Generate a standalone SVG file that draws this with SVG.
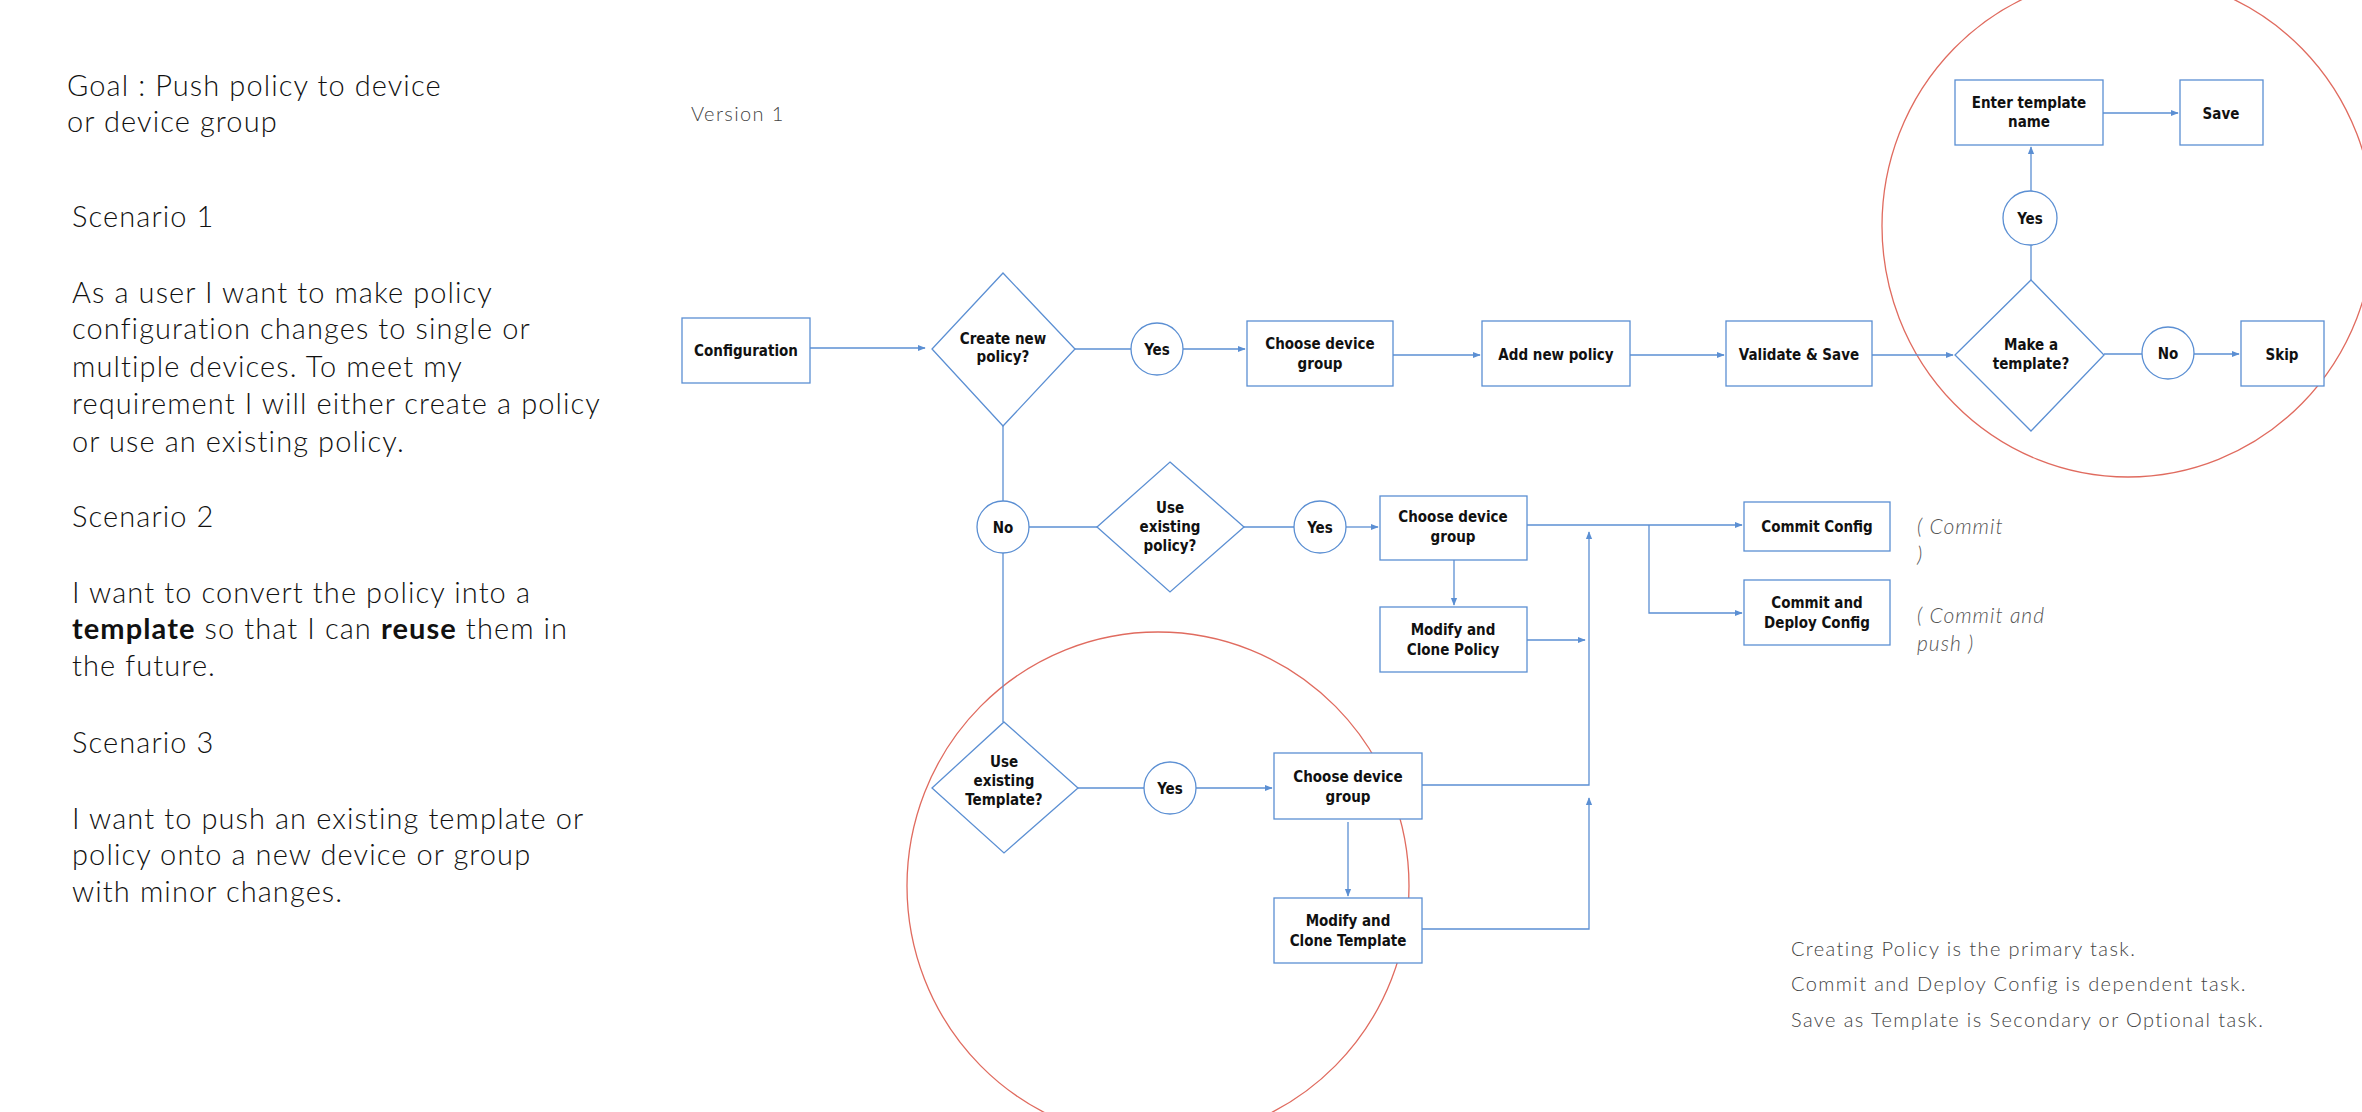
<svg xmlns="http://www.w3.org/2000/svg" width="2362" height="1112" viewBox="0 0 2362 1112">
<style>
.n{fill:#fff;stroke:#5b8fd3;stroke-width:1.3}
.t{font-family:"DejaVu Sans Condensed","DejaVu Sans",sans-serif;font-size:15px;font-weight:bold;fill:#111;text-anchor:middle}
.c{fill:none;stroke:#5b8fd3;stroke-width:1.3}
.r{fill:none;stroke:#e06b5f;stroke-width:1.3}
.b{font-family:Lato,"Open Sans",sans-serif;font-size:29px;font-weight:300;fill:#111;letter-spacing:1.1px}
.g{font-family:Lato,"Open Sans",sans-serif;font-size:20px;font-weight:300;fill:#444;letter-spacing:1.4px}
.i{font-family:Lato,"Open Sans",sans-serif;font-size:21px;font-style:italic;font-weight:300;fill:#555;letter-spacing:1px}
</style>
<defs><marker id="a" viewBox="0 0 10 10" refX="9" refY="5" markerWidth="6" markerHeight="6" orient="auto"><path d="M0,1L10,5L0,9z" fill="#5b8fd3"/></marker></defs>
<rect width="2362" height="1112" fill="#fff"/>
<g id="text">
<text class="b" x="67" y="96">Goal : Push policy to device</text>
<text class="b" x="67" y="132">or device group</text>
<text class="b" x="72" y="227">Scenario 1</text>
<text class="b" x="72" y="303">As a user I want to make policy</text>
<text class="b" x="72" y="339">configuration changes to single or</text>
<text class="b" x="72" y="377">multiple devices. To meet my</text>
<text class="b" x="72" y="414">requirement I will either create a policy</text>
<text class="b" x="72" y="452">or use an existing policy.</text>
<text class="b" x="72" y="527">Scenario 2</text>
<text class="b" x="72" y="603">I want to convert the policy into a</text>
<text class="b" x="72" y="639"><tspan font-weight="bold">template</tspan> so that I can <tspan font-weight="bold">reuse</tspan> them in</text>
<text class="b" x="72" y="676">the future.</text>
<text class="b" x="72" y="753">Scenario 3</text>
<text class="b" x="72" y="829">I want to push an existing template or</text>
<text class="b" x="72" y="865">policy onto a new device or group</text>
<text class="b" x="72" y="902">with minor changes.</text>
<text class="g" x="691" y="121">Version 1</text>
<text class="g" x="1791" y="956">Creating Policy is the primary task.</text>
<text class="g" x="1791" y="991">Commit and Deploy Config is dependent task.</text>
<text class="g" x="1791" y="1027">Save as Template is Secondary or Optional task.</text>
<text class="i" x="1917" y="534">( Commit</text>
<text class="i" x="1917" y="562">)</text>
<text class="i" x="1917" y="623">( Commit  and</text>
<text class="i" x="1917" y="651">push )</text>
</g>
<g id="circles">
<ellipse class="r" cx="2128" cy="226" rx="246" ry="251"/>
<ellipse class="r" cx="1158" cy="886" rx="251" ry="254"/>
</g>
<g id="connectors" class="c">
<path d="M810 348H925" marker-end="url(#a)"/>
<path d="M1075 349H1131"/><path d="M1183 349H1245" marker-end="url(#a)"/>
<path d="M1393 355H1480" marker-end="url(#a)"/>
<path d="M1630 355H1724" marker-end="url(#a)"/>
<path d="M1872 355H1953" marker-end="url(#a)"/>
<path d="M2104 354H2142"/><path d="M2194 354H2239" marker-end="url(#a)"/>
<path d="M2031 280V245"/><path d="M2031 191V147" marker-end="url(#a)"/>
<path d="M2103 113H2178" marker-end="url(#a)"/>
<path d="M1003 426V501"/><path d="M1003 553V722"/>
<path d="M1029 527H1097"/><path d="M1244 527H1294"/><path d="M1346 527H1378" marker-end="url(#a)"/>
<path d="M1454 560V605" marker-end="url(#a)"/>
<path d="M1527 525H1742" marker-end="url(#a)"/>
<path d="M1649 525V613H1742" marker-end="url(#a)"/>
<path d="M1527 640H1585" marker-end="url(#a)"/>
<path d="M1078 788H1144"/><path d="M1196 788H1272" marker-end="url(#a)"/>
<path d="M1348 822V896" marker-end="url(#a)"/>
<path d="M1422 785H1589V532" marker-end="url(#a)"/>
<path d="M1422 929H1589V798" marker-end="url(#a)"/>
</g>
<g id="configuration"><rect class="n" x="682" y="318" width="128" height="65"/><text class="t" x="746" y="356">Configuration</text></g>
<g id="create-new"><path class="n" d="M1003 273L1075 349L1003 426L932 349Z"/><text class="t" x="1003" y="344">Create new</text><text class="t" x="1003" y="362">policy?</text></g>
<g id="yes1"><circle class="n" cx="1157" cy="349" r="26"/><text class="t" x="1157" y="355">Yes</text></g>
<g id="cdg1"><rect class="n" x="1247" y="321" width="146" height="65"/><text class="t" x="1320" y="349">Choose device</text><text class="t" x="1320" y="369">group</text></g>
<g id="add-new"><rect class="n" x="1482" y="321" width="148" height="65"/><text class="t" x="1556" y="360">Add new policy</text></g>
<g id="validate"><rect class="n" x="1726" y="321" width="146" height="65"/><text class="t" x="1799" y="360">Validate &amp; Save</text></g>
<g id="make-template"><path class="n" d="M2031 280L2104 355L2031 431L1955 355Z"/><text class="t" x="2031" y="350">Make a</text><text class="t" x="2031" y="369">template?</text></g>
<g id="yes-top"><circle class="n" cx="2030" cy="218" r="27"/><text class="t" x="2030" y="224">Yes</text></g>
<g id="enter-name"><rect class="n" x="1955" y="80" width="148" height="65"/><text class="t" x="2029" y="108">Enter template</text><text class="t" x="2029" y="127">name</text></g>
<g id="save"><rect class="n" x="2180" y="80" width="83" height="65"/><text class="t" x="2221" y="119">Save</text></g>
<g id="no-right"><circle class="n" cx="2168" cy="353" r="26"/><text class="t" x="2168" y="359">No</text></g>
<g id="skip"><rect class="n" x="2241" y="321" width="83" height="65"/><text class="t" x="2282" y="360">Skip</text></g>
<g id="no-left"><circle class="n" cx="1003" cy="527" r="26"/><text class="t" x="1003" y="533">No</text></g>
<g id="use-policy"><path class="n" d="M1170 462L1244 527L1170 592L1097 527Z"/><text class="t" x="1170" y="513">Use</text><text class="t" x="1170" y="532">existing</text><text class="t" x="1170" y="551">policy?</text></g>
<g id="yes2"><circle class="n" cx="1320" cy="527" r="26"/><text class="t" x="1320" y="533">Yes</text></g>
<g id="cdg2"><rect class="n" x="1380" y="496" width="147" height="64"/><text class="t" x="1453" y="522">Choose device</text><text class="t" x="1453" y="542">group</text></g>
<g id="clone-policy"><rect class="n" x="1380" y="607" width="147" height="65"/><text class="t" x="1453" y="635">Modify and</text><text class="t" x="1453" y="655">Clone Policy</text></g>
<g id="commit"><rect class="n" x="1744" y="502" width="146" height="49"/><text class="t" x="1817" y="532">Commit Config</text></g>
<g id="commit-deploy"><rect class="n" x="1744" y="580" width="146" height="65"/><text class="t" x="1817" y="608">Commit and</text><text class="t" x="1817" y="628">Deploy Config</text></g>
<g id="use-template"><path class="n" d="M1004 722L1078 788L1004 853L932 788Z"/><text class="t" x="1004" y="767">Use</text><text class="t" x="1004" y="786">existing</text><text class="t" x="1004" y="805">Template?</text></g>
<g id="yes3"><circle class="n" cx="1170" cy="788" r="26"/><text class="t" x="1170" y="794">Yes</text></g>
<g id="cdg3"><rect class="n" x="1274" y="753" width="148" height="66"/><text class="t" x="1348" y="782">Choose device</text><text class="t" x="1348" y="802">group</text></g>
<g id="clone-template"><rect class="n" x="1274" y="898" width="148" height="65"/><text class="t" x="1348" y="926">Modify and</text><text class="t" x="1348" y="946">Clone Template</text></g>
</svg>
